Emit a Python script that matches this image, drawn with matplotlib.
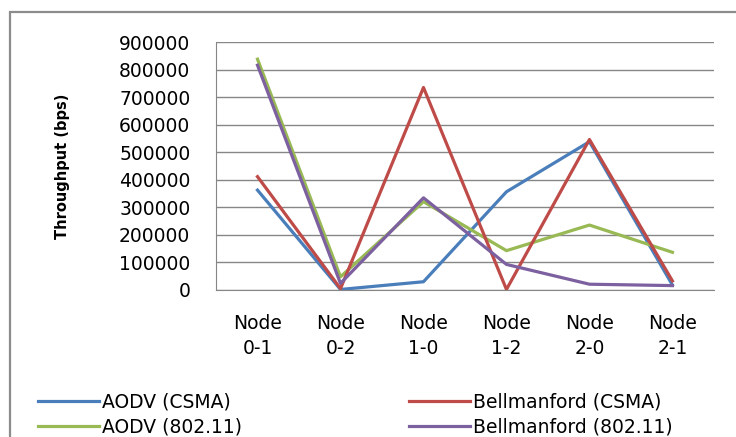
import matplotlib.pyplot as plt
from matplotlib.patches import Rectangle

# data
categories = ["Node\n0-1", "Node\n0-2", "Node\n1-0", "Node\n1-2", "Node\n2-0", "Node\n2-1"]
aodv_csma = [363000, 2000, 30000, 357000, 539000, 18000]
bellman_csma = [412000, 5000, 736000, 2000, 547000, 33000]
aodv_80211 = [839000, 48000, 321000, 143000, 236000, 137000]
bellman_80211 = [817000, 24000, 335000, 93000, 21000, 16000]
y_ticks = [0, 100000, 200000, 300000, 400000, 500000, 600000, 700000, 800000, 900000]

plt.rcParams['font.family'] = 'DejaVu Sans'

fig = plt.figure(figsize=(7.36, 4.37), dpi=100)
ax = fig.add_axes([0.2935, 0.3364, 0.6765, 0.5666])

# outer chart frame (runs off the right and bottom edge in the reference)
fig.patches.append(Rectangle((10 / 736, -0.05), 1.0, 1 - 12 / 437 + 0.05,
                             transform=fig.transFigure, fill=False,
                             edgecolor='#8c8c8c', linewidth=1.6, zorder=0))

x = list(range(len(categories)))
ax.plot(x, aodv_csma, color='#4a7ebb', linewidth=2.3, label='AODV (CSMA)')
ax.plot(x, aodv_80211, color='#98b954', linewidth=2.3, label='AODV (802.11)')
ax.plot(x, bellman_csma, color='#be4b48', linewidth=2.3, label='Bellmanford (CSMA)')
ax.plot(x, bellman_80211, color='#7d60a0', linewidth=2.3, label='Bellmanford (802.11)')

ax.set_xlim(-0.5, len(categories) - 0.5)
ax.set_ylim(0, 900000)
ax.set_yticks(y_ticks)
ax.set_yticklabels([str(v) for v in y_ticks], fontsize=13.5)
ax.set_xticks(x)
ax.set_xticklabels(categories, fontsize=13.5, linespacing=1.45)
ax.tick_params(axis='y', length=0, pad=18.5)
ax.tick_params(axis='x', length=0, pad=17)
ax.grid(True, axis='y', color='#868686', linewidth=1.0)
ax.set_axisbelow(True)
for side in ['top', 'right']:
    ax.spines[side].set_visible(False)
ax.spines['bottom'].set_color('#868686')
ax.spines['left'].set_color('#868686')

ax.set_ylabel('Throughput (bps)', fontsize=10.5, fontweight='bold')
ax.yaxis.set_label_coords((70 - 216) / 498, 0.5)

fig.legend(loc='upper left', bbox_to_anchor=(30 / 736, 1 - 385 / 437), ncol=2,
           frameon=False, fontsize=13.5, handlelength=3.3, handletextpad=0.12,
           columnspacing=8.9, labelspacing=0.32, borderaxespad=0)

fig.savefig('out.png', dpi=100, facecolor='white')
